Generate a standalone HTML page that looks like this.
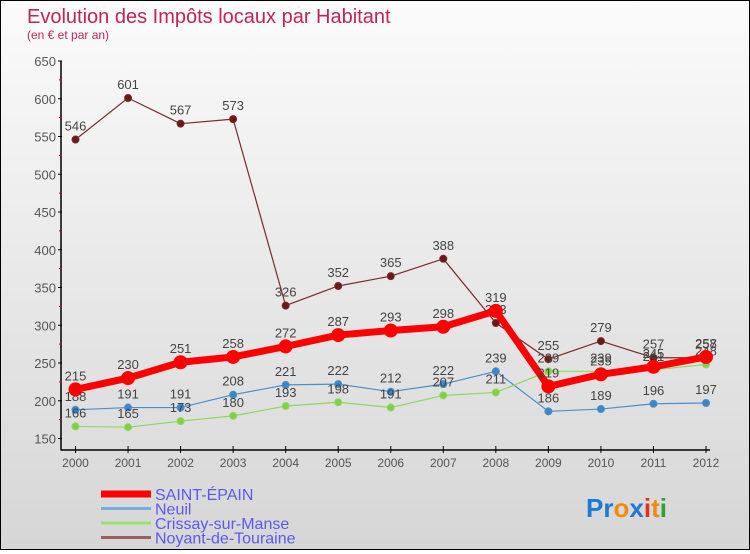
<!DOCTYPE html>
<html><head><meta charset="utf-8"><style>
html,body{margin:0;padding:0}
body{width:750px;height:550px;overflow:hidden;font-family:"Liberation Sans",sans-serif}
#c{position:absolute;left:0;top:0;width:748px;height:548px;border:1px solid #000;background:linear-gradient(#fbfbfb,#d6d6d6)}
</style></head><body>
<div id="c">
<svg id="s" width="748" height="548" xmlns="http://www.w3.org/2000/svg">
<text x="26" y="22" font-size="20" fill="#c0245a">Evolution des Impôts locaux par Habitant</text>
<text x="26" y="38" font-size="12" fill="#c0245a">(en € et par an)</text>
<g id="axes"></g><g id="series"></g><g id="legend"></g>
<g font-size="26" font-weight="bold" font-family="Liberation Sans,sans-serif">
<text x="585" y="516"><tspan fill="#1a7ad8">Pr</tspan><tspan fill="#f08a10">o</tspan><tspan fill="#1a7ad8">x</tspan><tspan fill="#e03020">i</tspan><tspan fill="#f08a10">t</tspan><tspan fill="#30a030">i</tspan></text>
</g>
</svg></div>
<script>
const years=[2000,2001,2002,2003,2004,2005,2006,2007,2008,2009,2010,2011,2012];
const yTicks=[150,200,250,300,350,400,450,500,550,600,650];
const seNames=["SAINT-ÉPAIN","Neuil","Crissay-sur-Manse","Noyant-de-Touraine"];
const saint=[215,230,251,258,272,287,293,298,319,219,235,245,258];
const neuil=[188,191,191,208,221,222,212,222,239,186,189,196,197];
const crissay=[166,165,173,180,193,198,191,207,211,239,239,241,248];
const noyant=[546,601,567,573,326,352,365,388,303,255,279,257,257];
const NS="http://www.w3.org/2000/svg";
function xs(i){return 74.5+i*(705-74.5)/12;}
function ys(v){return 437.5-(v-150)*(377.5/500);}
function mk(t,a,p){const e=document.createElementNS(NS,t);for(const k in a)e.setAttribute(k,a[k]);(p||document.getElementById('series')).appendChild(e);return e;}
const ax=document.getElementById('axes');
let e=mk('line',{x1:60,y1:ys(650),x2:60,y2:ys(150)+12,stroke:'#000','stroke-width':1.5},ax);

e=mk('line',{x1:60,y1:449,x2:709,y2:449,stroke:'#000','stroke-width':1.5},ax);

yTicks.forEach((v,i)=>{mk('line',{x1:57,y1:ys(v),x2:61,y2:ys(v),stroke:'#000'},ax);
 if(i<yTicks.length-1)mk('line',{x1:58,y1:ys(v+25),x2:61,y2:ys(v+25),stroke:'#d00'},ax);
 const t=mk('text',{x:55,y:ys(v)+5,'font-size':13,fill:'#555','text-anchor':'end'},ax);t.textContent=v;
 });
years.forEach((y,i)=>{mk('line',{x1:xs(i),y1:445,x2:xs(i),y2:452,stroke:'#000'},ax);
 const t=mk('text',{x:xs(i),y:466,'font-size':12,fill:'#555','text-anchor':'middle'},ax);t.textContent=y;
 });
function series(d,col,w,r,name,fill){
 const g=mk('g',{});
 mk('polyline',{points:d.map((v,i)=>xs(i)+','+ys(v)).join(' '),fill:'none',stroke:col,'stroke-width':w,'stroke-linejoin':'round'},g);
 d.forEach((v,i)=>{const c=mk('circle',{cx:xs(i),cy:ys(v),r:r,fill:fill,stroke:col,'stroke-width':1},g);
  
  const t=mk('text',{x:xs(i),y:ys(v)-9,'font-size':13,fill:'#444','text-anchor':'middle'},g);t.textContent=v;
  });
}
series(noyant,'#7a2a2a',1.2,3.5,'noyant-series','#6a1818');
series(neuil,'#4a90c8',1.2,3.5,'neuil-series','#3a88cc');
series(crissay,'#8ed860',1.2,3.5,'crissay-series','#80d040');
series(saint,'#f00',7,6.5,'saint-epain-series','#f00');
const lg=document.getElementById('legend');
const lcol=['#f00','#7ab0d8','#9ee070','#9a6060'];const lw=[7,3,3,3];
seNames.forEach((n,i)=>{const y=493+i*14.5;
 const g=mk('g',{},lg);
 mk('line',{x1:100,y1:y,x2:150,y2:y,stroke:lcol[i],'stroke-width':lw[i]},g);
 const t=mk('text',{x:154,y:y+6,'font-size':16,fill:'#5a5aee'},g);t.textContent=n;});
</script>
</body></html>
